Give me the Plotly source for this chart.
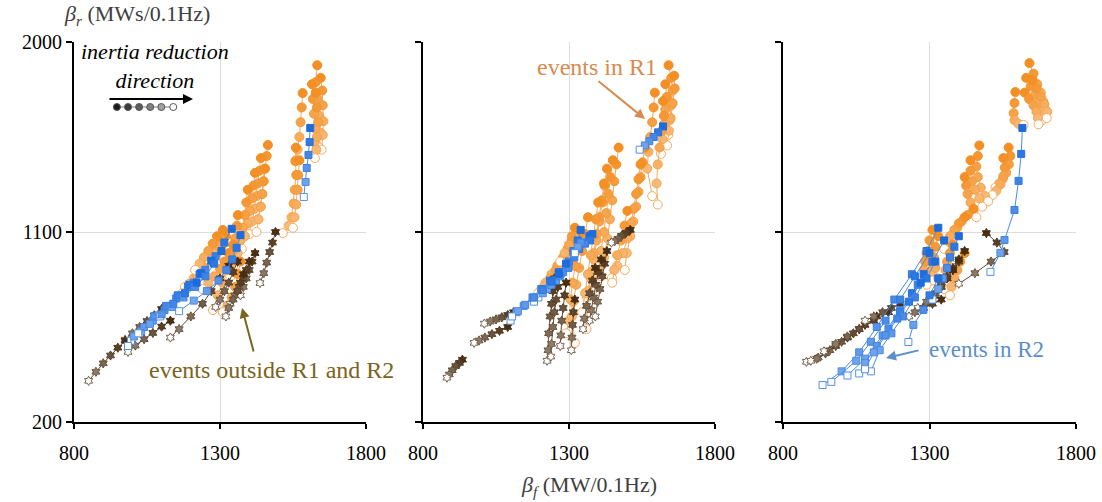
import plotly.graph_objects as go

# ---------------- data (beta_f, beta_r) trajectories, first point = highest inertia ----------------
P1_ORANGE = [
    [(1633,1890),(1628,1810),(1634,1730),(1640,1650),(1645,1570),(1640,1500)],
    [(1645,1830),(1650,1770),(1652,1700),(1654,1625),(1652,1560),(1648,1490)],
    [(1615,1800),(1618,1730),(1622,1660),(1626,1590),(1624,1525),(1620,1465)],
    [(1628,1760),(1632,1690),(1636,1620),(1632,1550),(1630,1490),(1625,1450)],
    [(1583,1758),(1580,1690),(1576,1620),(1572,1550),(1566,1490),(1560,1440)],
    [(1560,1500),(1558,1435),(1561,1370),(1556,1300),(1552,1235),(1545,1170),(1535,1130),(1515,1095)],
    [(1572,1440),(1568,1370),(1566,1300),(1561,1230),(1555,1170),(1550,1120)],
    [(1464,1512),(1460,1460),(1455,1400),(1450,1340),(1445,1280),(1438,1220),(1430,1160)],
    [(1440,1450),(1435,1390),(1430,1330),(1425,1270),(1418,1210),(1410,1150),(1400,1090)],
    [(1420,1380),(1415,1320),(1410,1260),(1402,1200),(1395,1140),(1385,1080),(1375,1020)],
    [(1452,1400),(1448,1340),(1444,1280),(1440,1220),(1432,1160),(1425,1100)],
    [(1395,1300),(1390,1240),(1385,1180),(1378,1120),(1370,1060),(1360,1000),(1345,940)],
    [(1361,1180),(1358,1130),(1352,1070),(1345,1010),(1340,950),(1335,890)],
    [(1320,1080),(1308,1040),(1290,1000),(1270,960),(1240,920),(1210,880),(1180,840)],
    [(1300,1050),(1285,1010),(1265,970),(1245,935),(1220,895),(1195,855),(1170,810)],
    [(1330,1000),(1315,960),(1300,925),(1280,890),(1260,860),(1240,830)],
    [(1310,1110),(1300,1070),(1290,1035),(1275,1000),(1260,970)],
    [(1345,1040),(1335,980),(1322,920),(1308,860),(1292,800),(1276,730)],
    [(1370,960),(1362,900),(1352,840),(1340,790),(1325,750),(1310,720)],
    [(1290,1080),(1275,1045),(1260,1010),(1245,980),(1230,950),(1215,920)],
]
P1_BLUE = [
    [(1609,1593),(1607,1526),(1603,1465),(1597,1403),(1593,1337),(1587,1266)],
    [(1340,1115),(1315,1050),(1285,985),(1250,920),(1210,860),(1170,800),(1130,750),(1090,705)],
    [(1370,1085),(1357,1025),(1342,970),(1322,920),(1295,870),(1255,820),(1210,775),(1160,725)],
    [(1270,965),(1230,900),(1190,840),(1150,785),(1110,730),(1070,680),(1030,630),(995,585)],
    [(1235,905),(1195,850),(1155,800),(1115,750),(1075,700),(1040,650),(1005,605),(985,560)],
    [(1305,1010),(1280,950),(1250,890),(1215,840),(1175,790),(1135,745),(1095,700)],
    [(1220,860),(1180,810),(1140,760),(1100,710),(1060,665),(1020,620)],
]
P1_BROWN = [
    [(1100,735),(1075,705),(1050,678),(1025,650),(1000,620),(975,590)],
    [(975,585),(950,552),(925,515),(900,478),(875,438),(850,395)],
    [(1130,680),(1100,652),(1070,622),(1040,592),(1010,562),(985,532)],
    [(1330,940),(1300,880),(1270,820),(1240,760),(1200,700),(1160,640),(1130,600)],
    [(1420,1000),(1410,960),(1400,920),(1390,880),(1380,840),(1370,800)],
    [(1400,960),(1390,920),(1380,880),(1365,840),(1350,800),(1335,760)],
    [(1380,900),(1370,860),(1360,820),(1345,780),(1330,740),(1320,700)],
    [(1490,1100),(1480,1050),(1470,1005),(1460,955),(1450,905),(1437,858)],
    [(1360,960),(1345,910),(1330,860),(1315,820),(1300,780),(1285,745)],
]

P2_ORANGE = [
    [(1641,1890),(1650,1830),(1655,1770),(1650,1700),(1645,1630),(1640,1560)],
    [(1660,1840),(1662,1780),(1655,1710),(1648,1640),(1642,1580),(1636,1510)],
    [(1630,1800),(1635,1740),(1630,1680),(1625,1610),(1620,1540),(1615,1470)],
    [(1622,1720),(1625,1650),(1618,1580),(1610,1500),(1604,1420),(1600,1330),(1604,1230)],
    [(1594,1760),(1590,1690),(1585,1620),(1578,1550),(1572,1480),(1568,1400),(1585,1270)],
    [(1560,1500),(1552,1430),(1545,1360),(1538,1290),(1530,1220),(1520,1150),(1510,1080),(1498,1000),(1491,920)],
    [(1545,1420),(1538,1350),(1530,1280),(1522,1210),(1512,1140),(1500,1070),(1485,1000),(1465,940),(1447,882)],
    [(1470,1500),(1462,1420),(1455,1340),(1448,1250),(1440,1160),(1432,1070),(1420,980),(1410,890)],
    [(1450,1440),(1442,1360),(1435,1280),(1428,1190),(1420,1100),(1410,1010),(1400,920),(1385,830)],
    [(1430,1400),(1422,1320),(1415,1240),(1405,1150),(1395,1060),(1385,970),(1375,880),(1362,790)],
    [(1420,1330),(1412,1250),(1403,1170),(1395,1090),(1385,1000),(1375,910),(1365,820),(1360,640)],
    [(1400,1240),(1392,1160),(1383,1080),(1375,990),(1365,900),(1355,810),(1345,720)],
    [(1365,1170),(1355,1090),(1345,1010),(1335,930),(1325,850),(1315,770),(1300,680),(1290,620)],
    [(1340,1100),(1330,1020),(1320,940),(1312,860),(1305,780),(1310,700),(1320,575)],
    [(1310,1060),(1295,1020),(1280,980),(1260,940),(1240,900),(1220,860),(1200,820)],
    [(1290,1000),(1275,960),(1255,920),(1235,880),(1215,845),(1195,810)],
    [(1320,1120),(1310,1080),(1300,1040),(1285,1000),(1270,960)],
    [(1500,1200),(1490,1130),(1478,1060),(1465,990),(1455,920),(1448,860)],
]
P2_BLUE = [
    [(1622,1600),(1605,1572),(1590,1550),(1575,1530),(1560,1510),(1542,1490)],
    [(1340,1110),(1330,1060),(1315,1010),(1300,960),(1280,910),(1255,870),(1225,830),(1195,790)],
    [(1370,1080),(1352,1050),(1335,1020),(1318,980),(1298,930),(1270,890),(1240,850),(1210,810),(1180,770)],
    [(1290,950),(1265,910),(1235,870),(1205,830),(1175,790),(1145,750),(1120,720),(1100,680)],
    [(1265,900),(1240,865),(1210,825),(1180,790),(1150,755),(1125,725),(1105,700)],
    [(1380,1090),(1372,1060),(1355,1045),(1340,1050),(1330,1030),(1320,1000)],
]
P2_BROWN = [
    [(935,495),(925,480),(912,465),(900,445),(890,425),(882,410)],
    [(1090,650),(1062,632),(1036,616),(1012,600),(992,586),(975,575)],
    [(1110,720),(1090,707),(1070,696),(1050,686),(1030,676),(1010,666)],
    [(1250,880),(1245,820),(1240,760),(1235,700),(1230,620),(1228,540),(1225,490)],
    [(1270,900),(1262,840),(1256,780),(1250,720),(1245,650),(1240,570),(1238,510)],
    [(1290,860),(1285,800),(1280,740),(1275,680),(1272,610),(1270,560)],
    [(1430,1010),(1422,950),(1414,890),(1406,830),(1398,770),(1390,700)],
    [(1410,970),(1400,910),(1392,850),(1384,790),(1376,730),(1370,680)],
    [(1390,930),(1380,870),(1370,810),(1360,750),(1352,690),(1348,640)],
    [(1510,1110),(1495,1096),(1480,1082),(1468,1068),(1456,1056),(1445,1050)],
    [(1320,780),(1315,720),(1312,660),(1310,600),(1308,540)],
]

P3_ORANGE = [
    [(1641,1900),(1655,1850),(1668,1800),(1680,1760),(1688,1720),(1695,1680)],
    [(1630,1830),(1645,1790),(1660,1750),(1672,1710),(1680,1670),(1685,1630)],
    [(1625,1760),(1640,1730),(1655,1700),(1665,1670),(1670,1640),(1672,1610)],
    [(1652,1820),(1666,1780),(1680,1740),(1692,1705),(1702,1670),(1700,1640)],
    [(1593,1763),(1590,1711),(1587,1663),(1590,1630),(1604,1612),(1621,1607)],
    [(1570,1500),(1576,1460),(1571,1420),(1562,1380),(1550,1350),(1538,1330),(1525,1310)],
    [(1552,1450),(1557,1405),(1552,1365),(1542,1325),(1528,1295),(1515,1275)],
    [(1470,1510),(1465,1460),(1460,1410),(1465,1360),(1475,1310),(1490,1270),(1500,1245)],
    [(1440,1440),(1440,1390),(1445,1340),(1455,1300),(1470,1260),(1480,1220)],
    [(1420,1360),(1425,1320),(1430,1280),(1440,1240),(1450,1200),(1460,1170)],
    [(1450,1210),(1430,1180),(1410,1150),(1395,1120),(1380,1090),(1365,1060)],
    [(1420,1170),(1400,1140),(1385,1110),(1370,1080),(1360,1050),(1350,1020)],
    [(1310,1110),(1300,1060),(1295,1010),(1300,960),(1305,910),(1310,870)],
    [(1330,1080),(1320,1030),(1315,980),(1320,930),(1330,880),(1340,840)],
    [(1380,1040),(1370,1000),(1360,960),(1355,920),(1352,880),(1350,830)],
    [(1420,1000),(1405,960),(1395,920),(1385,880),(1375,840),(1370,800)],
    [(1290,1000),(1285,960),(1282,920),(1285,880),(1290,850)],
]
P3_BLUE = [
    [(1617,1593),(1613,1470),(1604,1342),(1590,1204),(1556,1062),(1542,1001),(1508,911)],
    [(1330,1120),(1290,1010),(1240,900),(1180,780),(1120,650),(1060,530),(1000,440),(935,375)],
    [(1350,1060),(1310,960),(1260,850),(1200,730),(1140,610),(1080,500),(1020,420)],
    [(1300,1000),(1250,890),(1200,780),(1150,680),(1100,580),(1050,490),(965,390)],
    [(1280,900),(1240,810),(1200,720),(1160,640),(1120,560),(1080,480),(1060,430)],
    [(1320,960),(1290,880),(1250,790),(1210,700),(1170,620),(1130,540),(1100,440)],
    [(1400,1080),(1385,1030),(1370,980),(1360,930),(1345,880),(1330,830),(1310,780)],
    [(1330,880),(1300,800),(1279,731),(1245,660),(1228,579)],
    [(1270,860),(1230,770),(1190,690),(1150,610),(1110,530),(1080,450)],
]
P3_BROWN = [
    [(1120,700),(1080,660),(1040,620),(1000,580),(960,540),(920,505),(880,485)],
    [(1060,640),(1020,600),(980,560),(945,525),(915,500),(895,490)],
    [(1160,720),(1110,680),(1060,640),(1020,605),(980,570),(940,535)],
    [(1420,1010),(1400,960),(1380,920),(1360,880),(1340,840),(1320,800)],
    [(1400,970),(1380,930),(1360,890),(1340,850),(1320,810),(1300,770)],
    [(1380,920),(1360,880),(1340,840),(1315,800),(1290,770),(1260,740)],
    [(1340,780),(1310,760),(1280,740),(1250,720),(1230,700)],
    [(1494,1095),(1530,1050),(1555,1005),(1510,960),(1455,905),(1400,855)],
    [(1200,760),(1170,740),(1140,720),(1110,700),(1080,680)],
]

LEGEND_X = [947, 985, 1023, 1061, 1099, 1140]
LEGEND_Y = [1692, 1692, 1692, 1692, 1692, 1692]
LEGEND_FILL = ["#1a1a1a", "#3c3c3c", "#5e5e5e", "#808080", "#a0a0a0", "#ffffff"]

X_TICKS = [800, 1300, 1800]
Y_TICKS = [200, 1100, 2000]

# ---------------- styling ----------------
FONT = "Liberation Serif"
STYLES = {
    "orange": dict(rgb=(243, 143, 35), symbol="circle", size=9, line=(243, 170, 95)),
    "blue": dict(rgb=(28, 108, 222), symbol="square", size=7, line=(70, 140, 228)),
    "brown": dict(rgb=(72, 45, 18), symbol="hexagram", size=7, line=(100, 72, 45)),
}


def mix(c, t):
    return "rgb(%d,%d,%d)" % tuple(round(v * (1 - t) + 255 * t) for v in c)


fig = go.Figure()


def add_group(trajs, kind, ax):
    st = STYLES[kind]
    for tr in trajs:
        n = len(tr)
        xs = [p[0] for p in tr]
        ys = [p[1] for p in tr]
        fills = [mix(st["rgb"], (i / (n - 1)) * 0.45) if i < n - 1 else "white" for i in range(n)]
        outl = [mix(st["rgb"], (i / (n - 1)) * 0.25) for i in range(n)]
        fig.add_trace(go.Scatter(
            x=xs, y=ys, mode="lines+markers", xaxis="x" + ax, yaxis="y" + ax,
            line=dict(color="rgb(%d,%d,%d)" % st["line"], width=1),
            marker=dict(symbol=st["symbol"], size=st["size"], color=fills,
                        line=dict(color=outl, width=1)),
            showlegend=False, hoverinfo="x+y"))


for ax, groups in [("", (P1_ORANGE, P1_BLUE, P1_BROWN)),
                   ("2", (P2_ORANGE, P2_BLUE, P2_BROWN)),
                   ("3", (P3_ORANGE, P3_BLUE, P3_BROWN))]:
    add_group(groups[0], "orange", ax)
    add_group(groups[2], "brown", ax)
    add_group(groups[1], "blue", ax)

# direction legend dots
fig.add_trace(go.Scatter(
    x=LEGEND_X, y=LEGEND_Y, mode="lines+markers", xaxis="x", yaxis="y",
    line=dict(color="#808080", width=1),
    marker=dict(size=7, color=LEGEND_FILL, line=dict(color="#555555", width=1)),
    showlegend=False, hoverinfo="skip"))

W, H = 1102, 502
doms_x = [(74, 366), (423, 715), (783, 1076)]
y_top, y_bot = 42, 422

layout = dict(width=W, height=H, margin=dict(l=0, r=0, t=0, b=0, autoexpand=False),
              paper_bgcolor="white", plot_bgcolor="white", showlegend=False)

for i, (a, b) in enumerate(doms_x):
    sfx = "" if i == 0 else str(i + 1)
    layout["xaxis" + sfx] = dict(
        domain=[a / W, b / W], range=[800, 1800], tickvals=X_TICKS,
        showgrid=True, gridcolor="#dcdcdc", gridwidth=1, zeroline=False,
        showline=True, linecolor="black", linewidth=2,
        ticks="outside", ticklen=5, tickwidth=2, tickcolor="black",
        ticklabelstandoff=7, automargin=False,
        tickfont=dict(family=FONT, size=20, color="black"),
        anchor="y" + sfx, fixedrange=True)
    layout["yaxis" + sfx] = dict(
        domain=[1 - y_bot / H, 1 - y_top / H], range=[200, 2000], tickvals=Y_TICKS,
        showgrid=True, gridcolor="#dcdcdc", gridwidth=1, zeroline=False,
        showline=True, linecolor="black", linewidth=2,
        ticks="outside", ticklen=6, tickwidth=2, tickcolor="black",
        showticklabels=(i == 0), automargin=False,
        tickfont=dict(family=FONT, size=20, color="black"),
        anchor="x" + sfx, fixedrange=True)

fig.update_layout(**layout)

ann = []
ann.append(dict(xref="paper", yref="paper", x=62 / W, y=1 - 15 / H, xanchor="left", yanchor="middle",
                text="<i>β<sub>r</sub></i> (MWs/0.1Hz)", showarrow=False,
                font=dict(family=FONT, size=22, color="#404040")))
ann.append(dict(xref="paper", yref="paper", x=589 / W, y=1 - 486 / H, xanchor="center", yanchor="middle",
                text="<i>β<sub>f</sub></i> (MW/0.1Hz)", showarrow=False,
                font=dict(family=FONT, size=22, color="#404040")))
ann.append(dict(xref="paper", yref="paper", x=155 / W, y=1 - 66 / H, xanchor="center", yanchor="middle",
                text="<i>inertia reduction</i><br><i>direction</i>", showarrow=False,
                font=dict(family=FONT, size=22, color="black")))
# direction arrow
ann.append(dict(xref="paper", yref="paper", x=193 / W, y=1 - 99 / H, ax=-85, ay=0, text="",
                showarrow=True, arrowhead=2, arrowsize=1, arrowwidth=2, arrowcolor="black"))
# events outside
OLIVE = "#7a6420"
ann.append(dict(xref="paper", yref="paper", x=147 / W, y=1 - 370 / H, xanchor="left", yanchor="middle",
                text="events outside R1 and R2", showarrow=False,
                font=dict(family=FONT, size=24, color=OLIVE)))
ann.append(dict(xref="paper", yref="paper", x=242 / W, y=1 - 308 / H, ax=12, ay=45, text="",
                showarrow=True, arrowhead=2, arrowsize=1, arrowwidth=2, arrowcolor=OLIVE))
# events in R1
R1C = "#d98a4e"
ann.append(dict(xref="paper", yref="paper", x=535 / W, y=1 - 67 / H, xanchor="left", yanchor="middle",
                text="events in R1", showarrow=False,
                font=dict(family=FONT, size=24, color=R1C)))
ann.append(dict(xref="paper", yref="paper", x=645 / W, y=1 - 119 / H, ax=-48, ay=-39, text="",
                showarrow=True, arrowhead=2, arrowsize=1, arrowwidth=2, arrowcolor=R1C))
# events in R2
R2C = "#5b8fc9"
ann.append(dict(xref="paper", yref="paper", x=927 / W, y=1 - 349 / H, xanchor="left", yanchor="middle",
                text="events in R2", showarrow=False,
                font=dict(family=FONT, size=23, color=R2C)))
ann.append(dict(xref="paper", yref="paper", x=886 / W, y=1 - 358 / H, ax=34, ay=-8, text="",
                showarrow=True, arrowhead=2, arrowsize=1, arrowwidth=2, arrowcolor=R2C))

fig.update_layout(annotations=ann)
fig.write_html("out.html")
